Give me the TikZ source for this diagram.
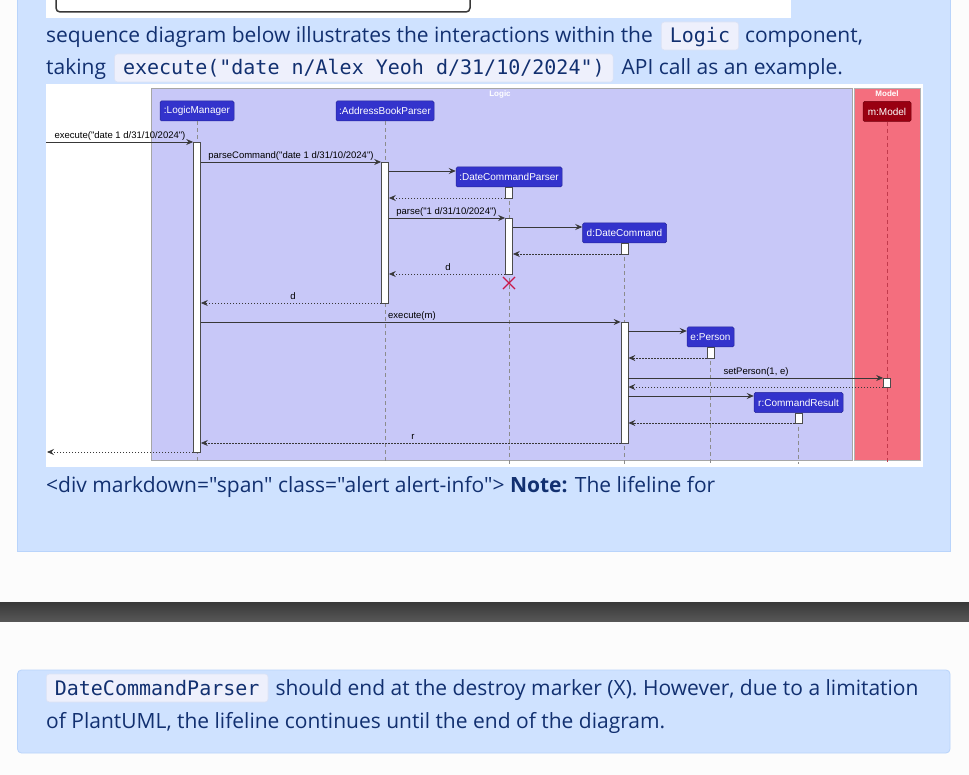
\documentclass[tikz,border=0pt]{standalone}
\usepackage{fontspec}
\newfontfamily\bodyfont{Open Sans}
\setmonofont{DejaVu Sans Mono}
\newfontfamily\diagfont{Liberation Sans}
\usetikzlibrary{arrows.meta,shapes.misc}
\definecolor{pagebg}{HTML}{FCFCFC}
\definecolor{alertbg}{HTML}{CFE2FF}
\definecolor{alertborder}{HTML}{B9D4FB}
\definecolor{navy}{RGB}{18,48,112}
\definecolor{codebg}{HTML}{EEF0FC}
\definecolor{codeborder}{HTML}{DCE2F5}
\definecolor{logicbg}{HTML}{C8C8F8}
\definecolor{modelbg}{HTML}{F46E7E}
\definecolor{partblue}{HTML}{3333CC}
\definecolor{partred}{HTML}{990011}
\definecolor{modelline}{HTML}{C23A4C}
\definecolor{crim}{HTML}{C8184A}
\begin{document}
\begin{tikzpicture}[x=1pt,y=-1pt,
  body/.style={font=\bodyfont\fontsize{21}{25}\selectfont, text=navy, anchor=base west, inner sep=0pt},
  codebox/.style={font=\ttfamily\fontsize{20}{24}\selectfont, text=navy, fill=codebg, draw=codeborder,
    line width=0.6pt, rounded corners=3pt, inner xsep=8.5pt, inner ysep=0pt, text height=21pt, text depth=7pt, anchor=base west},
  part/.style={fill=partblue, draw=partblue!75!black, line width=0.5pt, text=white,
    font=\diagfont\fontsize{10}{12}\selectfont, minimum height=20pt, inner xsep=2pt, inner ysep=0pt, rounded corners=1.5pt},
  act/.style={draw=black!70, fill=white, line width=0.7pt, minimum width=7pt, inner sep=0pt},
  life/.style={draw=black!45, dash pattern=on 4pt off 3pt, line width=0.7pt},
  msg/.style={draw=black!78, line width=0.8pt, -{Stealth[length=7pt, width=6pt, inset=2.5pt]}},
  ret/.style={msg, dash pattern=on 1.5pt off 1.5pt},
  lbl/.style={font=\diagfont\fontsize{9.5}{11}\selectfont, text=black, inner sep=0pt, anchor=base},
  framelbl/.style={font=\diagfont\bfseries\fontsize{8}{9}\selectfont, text=white, inner sep=0pt}
]
% page
\fill[pagebg] (0,0) rectangle (969,775);
\useasboundingbox (0,0) rectangle (969,775);
% first alert box
\fill[alertbg] (17,0) rectangle (950,551);
\draw[alertborder, line width=0.8pt] (17,0) -- (17,551) -- (950,551) -- (950,0);
% top white block with rounded inner box
\fill[white] (46,0) rectangle (791,18);
\draw[black!78, line width=1.5pt, rounded corners=4pt] (56,0) -- (56,12) -- (470,12) -- (470,0);

% text lines 1-2
\node[body] (t1) at (46,43) {sequence diagram below illustrates the interactions within the};
\node[codebox] (c1) at ([xshift=8pt]t1.base east) {Logic};
\node[body] (t2) at ([xshift=6pt]c1.base east) {component,};
\node[body] (t3) at (46,75) {taking};
\node[codebox] (c2) at ([xshift=8pt]t3.base east) {execute("date n/Alex Yeoh d/31/10/2024")};
\node[body] (t4) at ([xshift=8pt]c2.base east) {API call as an example.};

% diagram area
\fill[white] (46,84) rectangle (923,467);
\node[draw=black!35, fill=logicbg, line width=0.8pt, minimum width=701pt, minimum height=372pt,
  anchor=north west, inner sep=0pt] (logicF) at (151,88) {};
\node[draw=black!30, fill=modelbg, line width=0.8pt, minimum width=66pt, minimum height=372pt,
  anchor=north west, inner sep=0pt] (modelF) at (854,88) {};
\node[framelbl] (logicL) at (500,94) {Logic};
\node[framelbl] (modelL) at (887,94) {Model};

% participants
\node[part, minimum width=74pt] (lm) at (197,111) {:LogicManager};
\node[part, minimum width=98pt] (abp) at (385,111) {:AddressBookParser};
\node[part, minimum width=106pt] (dcp) at (509,177) {:DateCommandParser};
\node[part, minimum width=84pt] (dc) at (624.5,233) {d:DateCommand};
\node[part, minimum width=47pt] (ps) at (710.5,337) {e:Person};
\node[part, minimum width=89pt] (cr) at (798.5,402.5) {r:CommandResult};
\node[part, fill=partred, draw=partred!75!black, minimum width=48pt] (md) at (887,111.5) {m:Model};

% lifelines
\coordinate (bot) at (0,464);
\draw[life] (lm.south) -- (lm.south |- bot);
\draw[life] (abp.south) -- (abp.south |- bot);
\draw[life] (dcp.south) -- (dcp.south |- bot);
\draw[life] (dc.south) -- (dc.south |- bot);
\draw[life] (ps.south) -- (ps.south |- bot);
\draw[life] (cr.south) -- (cr.south |- bot);
\draw[life, draw=modelline] (md.south) -- (md.south |- bot);

% activations
\node[act, minimum height=310pt] (lmA) at (197,297) {};
\node[act, minimum height=141pt] (abpA) at (385,232.5) {};
\node[act, minimum height=11pt] (dcpA1) at (509,192.5) {};
\node[act, minimum height=56pt] (dcpA2) at (509,246) {};
\node[act, minimum height=11pt] (dcA1) at (624.5,248.5) {};
\node[act, minimum height=121pt] (dcA2) at (624.5,382.5) {};
\node[act, minimum height=11pt] (psA) at (710.5,352.5) {};
\node[act, minimum height=9pt] (mdA) at (887,382.5) {};
\node[act, minimum height=10pt] (crA) at (798.5,418) {};

% message levels
\coordinate (src) at (46,142);
\coordinate (yParse) at (0,162);
\coordinate (yNew1) at (0,171);
\coordinate (yRet1) at (0,198);
\coordinate (yP2) at (0,218);
\coordinate (yNew2) at (0,227);
\coordinate (yRet2) at (0,254);
\coordinate (yD1) at (0,274);
\coordinate (yD2) at (0,303);
\coordinate (yEx) at (0,322);
\coordinate (yNew3) at (0,331);
\coordinate (yRet3) at (0,358);
\coordinate (ySet) at (0,378);
\coordinate (yRet4) at (0,387);
\coordinate (yNew4) at (0,396);
\coordinate (yRet5) at (0,423);
\coordinate (yR) at (0,443);
\coordinate (sink) at (47,452);

% messages
\draw[msg] (src) -- (lmA.west |- src);
\node[lbl] (l1) at (120,139) {execute("date 1 d/31/10/2024")};
\draw[msg] (lmA.east |- yParse) -- (abpA.west |- yParse);
\node[lbl] (l2) at (291,159) {parseCommand("date 1 d/31/10/2024")};
\draw[msg] (abpA.east |- yNew1) -- (dcp.west |- yNew1);
\draw[ret] (dcpA1.west |- yRet1) -- (abpA.east |- yRet1);
\draw[msg] (abpA.east |- yP2) -- (dcpA2.west |- yP2);
\node[lbl] (l3) at (446.5,214.5) {parse("1 d/31/10/2024")};
\draw[msg] (dcpA2.east |- yNew2) -- (dc.west |- yNew2);
\draw[ret] (dcA1.west |- yRet2) -- (dcpA2.east |- yRet2);
\draw[ret] (dcpA2.west |- yD1) -- (abpA.east |- yD1);
\node[lbl] (l4) at (448,270.5) {d};
\node[cross out, draw=crim, line width=1.1pt, minimum size=11pt, inner sep=0pt] (dx) at (509,283) {};
\draw[ret] (abpA.west |- yD2) -- (lmA.east |- yD2);
\node[lbl] (l5) at (293,299.5) {d};
\draw[msg] (lmA.east |- yEx) -- (dcA2.west |- yEx);
\node[lbl, anchor=base west] (l6) at (388,319) {execute(m)};
\draw[msg] (dcA2.east |- yNew3) -- (ps.west |- yNew3);
\draw[ret] (psA.west |- yRet3) -- (dcA2.east |- yRet3);
\draw[msg] (dcA2.east |- ySet) -- (mdA.west |- ySet);
\node[lbl] (l7) at (756,374.5) {setPerson(1, e)};
\draw[ret] (mdA.west |- yRet4) -- (dcA2.east |- yRet4);
\draw[msg] (dcA2.east |- yNew4) -- (cr.west |- yNew4);
\draw[ret] (crA.west |- yRet5) -- (dcA2.east |- yRet5);
\draw[ret] (dcA2.west |- yR) -- (lmA.east |- yR);
\node[lbl] (l8) at (413,439.5) {r};
\draw[ret] (lmA.west |- sink) -- (sink);

% note line
\node[body] (t5) at (46,492) {<div markdown="span" class="alert alert-info"> \textbf{Note:} The lifeline for};

% dark bar
\shade[top color=black!78, bottom color=black!66] (0,602) rectangle (969,621);

% second alert box
\filldraw[fill=alertbg, draw=alertborder, line width=0.8pt, rounded corners=4pt] (17.5,670) rectangle (950,753);
\node[codebox] (c3) at (46,695) {DateCommandParser};
\node[body] (t6) at ([xshift=7pt]c3.base east) {should end at the destroy marker (X). However, due to a limitation};
\node[body] (t7) at (46,728) {of PlantUML, the lifeline continues until the end of the diagram.};
\end{tikzpicture}
\end{document}
